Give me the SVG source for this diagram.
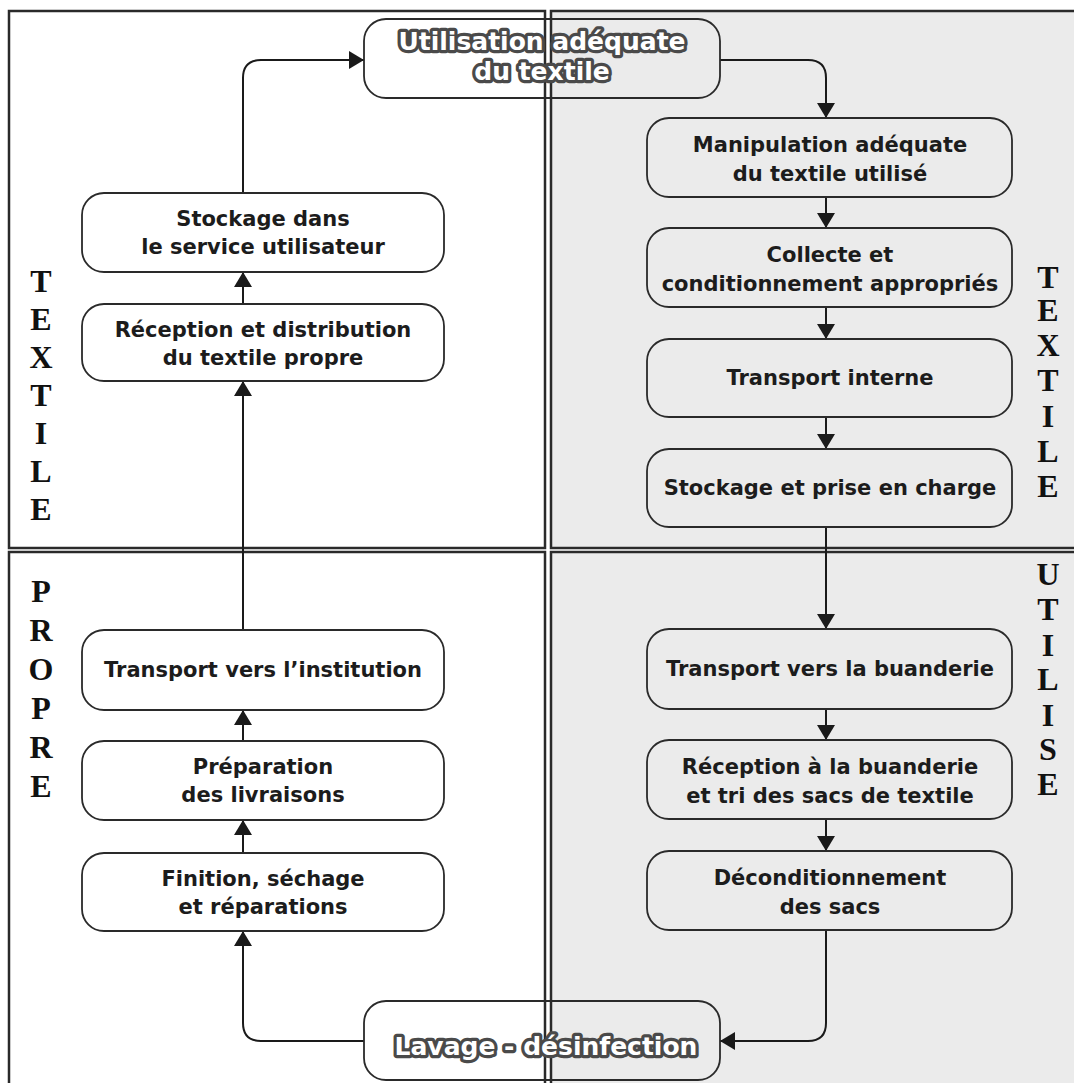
<svg xmlns="http://www.w3.org/2000/svg" width="1074" height="1083" viewBox="0 0 1074 1083">
<defs>
<marker id="ah" viewBox="0 0 15 18" refX="15" refY="9" markerWidth="15" markerHeight="18" markerUnits="userSpaceOnUse" orient="auto">
<path d="M0,0 L15,9 L0,18 z" fill="#1a1a1a"/>
</marker>
<style>
.panel{stroke:#2a2a2a;stroke-width:2.5}
.pl{fill:#ffffff}
.pr{fill:#ebebeb}
.box{stroke:#2a2a2a;stroke-width:1.8}
.bl{fill:#ffffff}
.br{fill:#ebebeb}
.bc{fill:none}
.t{font-family:"DejaVu Sans","Verdana",sans-serif;font-weight:bold;font-size:21px;fill:#1c1c1c;text-anchor:middle}
.o{font-family:"DejaVu Sans","Verdana",sans-serif;font-weight:bold;font-size:25px;fill:#ffffff;stroke:#4a4a4a;stroke-width:6.5;stroke-linejoin:round;paint-order:stroke;text-anchor:middle}
.v{font-family:"Liberation Serif","Times New Roman",serif;font-weight:bold;font-size:32px;fill:#111;text-anchor:middle}
.ca{fill:none;stroke:#1a1a1a;stroke-width:2;marker-end:url(#ah)}
</style>
</defs>
<rect width="1074" height="1083" fill="#ffffff"/>
<g id="panels">
<rect class="panel pl" x="9" y="11" width="536" height="537"/>
<rect class="panel pr" x="551" y="11" width="530" height="537"/>
<rect class="panel pl" x="9" y="552" width="536" height="540"/>
<rect class="panel pr" x="551" y="552" width="530" height="540"/>
</g>
<g id="side-labels">
<text class="v" x="41" y="292">T</text>
<text class="v" x="41" y="330">E</text>
<text class="v" x="41" y="368">X</text>
<text class="v" x="41" y="406">T</text>
<text class="v" x="41" y="444">I</text>
<text class="v" x="41" y="482">L</text>
<text class="v" x="41" y="520">E</text>
<text class="v" x="41" y="602">P</text>
<text class="v" x="41" y="641">R</text>
<text class="v" x="41" y="680">O</text>
<text class="v" x="41" y="719">P</text>
<text class="v" x="41" y="758">R</text>
<text class="v" x="41" y="797">E</text>
<text class="v" x="1048" y="288">T</text>
<text class="v" x="1048" y="321">E</text>
<text class="v" x="1048" y="356">X</text>
<text class="v" x="1048" y="391">T</text>
<text class="v" x="1048" y="427">I</text>
<text class="v" x="1048" y="462">L</text>
<text class="v" x="1048" y="497">E</text>
<text class="v" x="1048" y="585">U</text>
<text class="v" x="1048" y="620">T</text>
<text class="v" x="1048" y="656">I</text>
<text class="v" x="1048" y="690">L</text>
<text class="v" x="1048" y="726">I</text>
<text class="v" x="1048" y="760">S</text>
<text class="v" x="1048" y="795">E</text>
</g>
<g id="connectors">
<path class="ca" d="M243,193 V78 Q243,60 261,60 H364"/>
<path class="ca" d="M720,60 H808 Q826,60 826,78 V118"/>
<path class="ca" d="M826,197 V228"/>
<path class="ca" d="M826,307 V339"/>
<path class="ca" d="M826,417 V449"/>
<path class="ca" d="M826,527 V629"/>
<path class="ca" d="M826,709 V740"/>
<path class="ca" d="M826,819 V851"/>
<path class="ca" d="M826,930 V1023 Q826,1041 808,1041 H720"/>
<path class="ca" d="M364,1041 H261 Q243,1041 243,1023 V931"/>
<path class="ca" d="M243,853 V820"/>
<path class="ca" d="M243,741 V710"/>
<path class="ca" d="M243,630 V381"/>
<path class="ca" d="M243,304 V272"/>
</g>
<g id="n-utilisation">
<rect class="box bc" x="364" y="19" width="356" height="79" rx="22"/>
<text class="o" x="542" y="50">Utilisation adéquate</text>
<text class="o" x="542" y="80">du textile</text>
</g>
<g id="n-lavage">
<rect class="box bc" x="364" y="1001" width="356" height="79" rx="22"/>
<text class="o" x="546" y="1055">Lavage - désinfection</text>
</g>
<g id="n-stockage-service">
<rect class="box bl" x="82" y="193" width="362" height="79" rx="22"/>
<text class="t" x="263" y="226">Stockage dans</text>
<text class="t" x="263" y="254">le service utilisateur</text>
</g>
<g id="n-reception-distribution">
<rect class="box bl" x="82" y="304" width="362" height="77" rx="22"/>
<text class="t" x="263" y="337">Réception et distribution</text>
<text class="t" x="263" y="365">du textile propre</text>
</g>
<g id="n-transport-institution">
<rect class="box bl" x="82" y="630" width="362" height="80" rx="22"/>
<text class="t" x="263" y="677">Transport vers l’institution</text>
</g>
<g id="n-preparation">
<rect class="box bl" x="82" y="741" width="362" height="79" rx="22"/>
<text class="t" x="263" y="774">Préparation</text>
<text class="t" x="263" y="802">des livraisons</text>
</g>
<g id="n-finition">
<rect class="box bl" x="82" y="853" width="362" height="78" rx="22"/>
<text class="t" x="263" y="886">Finition, séchage</text>
<text class="t" x="263" y="914">et réparations</text>
</g>
<g id="n-manipulation">
<rect class="box br" x="647" y="118" width="365" height="79" rx="22"/>
<text class="t" x="830" y="152">Manipulation adéquate</text>
<text class="t" x="830" y="181">du textile utilisé</text>
</g>
<g id="n-collecte">
<rect class="box br" x="647" y="228" width="365" height="79" rx="22"/>
<text class="t" x="830" y="262">Collecte et</text>
<text class="t" x="830" y="291">conditionnement appropriés</text>
</g>
<g id="n-transport-interne">
<rect class="box br" x="647" y="339" width="365" height="78" rx="22"/>
<text class="t" x="830" y="385">Transport interne</text>
</g>
<g id="n-stockage-prise">
<rect class="box br" x="647" y="449" width="365" height="78" rx="22"/>
<text class="t" x="830" y="495">Stockage et prise en charge</text>
</g>
<g id="n-transport-buanderie">
<rect class="box br" x="647" y="629" width="365" height="80" rx="22"/>
<text class="t" x="830" y="676">Transport vers la buanderie</text>
</g>
<g id="n-reception-buanderie">
<rect class="box br" x="647" y="740" width="365" height="79" rx="22"/>
<text class="t" x="830" y="774">Réception à la buanderie</text>
<text class="t" x="830" y="803">et tri des sacs de textile</text>
</g>
<g id="n-deconditionnement">
<rect class="box br" x="647" y="851" width="365" height="79" rx="22"/>
<text class="t" x="830" y="885">Déconditionnement</text>
<text class="t" x="830" y="914">des sacs</text>
</g>
</svg>
